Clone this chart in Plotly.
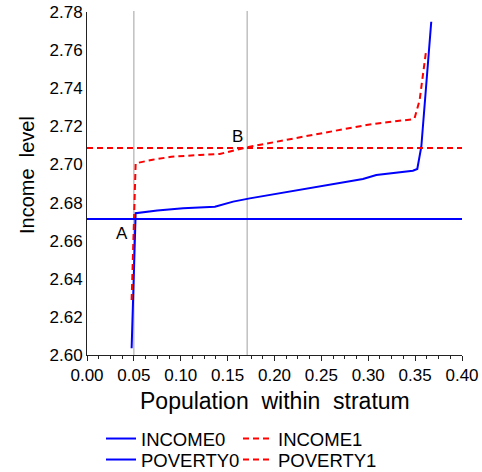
import plotly.graph_objects as go

# ---- data ----
income0_x = [0.0476, 0.0511, 0.0519, 0.0750, 0.1026, 0.1364, 0.1559, 0.1736, 0.2000,
             0.2500, 0.2943, 0.3086, 0.3300, 0.3476, 0.3523, 0.3566, 0.3672]
income0_y = [2.6035, 2.6714, 2.6744, 2.6758, 2.6770, 2.6778, 2.6805, 2.6822, 2.6844,
             2.6886, 2.6924, 2.6945, 2.6957, 2.6967, 2.6976, 2.7093, 2.7749]

income1_x = [0.0476, 0.0519, 0.0700, 0.0900, 0.1204, 0.1417, 0.1665, 0.1736, 0.2300,
             0.2980, 0.3200, 0.3476, 0.3494, 0.3548, 0.3619]
income1_y = [2.6289, 2.7006, 2.7025, 2.7040, 2.7050, 2.7055, 2.7085, 2.7093, 2.7145,
             2.7207, 2.7222, 2.7237, 2.7242, 2.7338, 2.7604]

poverty_x = [0.0, 0.40]
poverty0_level = 2.6714
poverty1_level = 2.7086

ref_lines_x = [0.05, 0.1708]

point_labels = ["A", "B"]
point_label_x = [0.037, 0.161]
point_label_y = [2.664, 2.7146]

x_ticks = [0.00, 0.05, 0.10, 0.15, 0.20, 0.25, 0.30, 0.35, 0.40]
y_ticks = [2.60, 2.62, 2.64, 2.66, 2.68, 2.70, 2.72, 2.74, 2.76, 2.78]

x_title = "Population\u00a0 within\u00a0 stratum"
y_title = "Income\u00a0 level"

FONT = "Arial, Liberation Sans, sans-serif"
BLUE = "#0000ff"
RED = "#ff0000"

fig = go.Figure()

fig.add_trace(go.Scatter(x=income0_x, y=income0_y, mode="lines", name="INCOME0",
                         line=dict(color=BLUE, width=2), legend="legend"))
fig.add_trace(go.Scatter(x=income1_x, y=income1_y, mode="lines", name="INCOME1",
                         line=dict(color=RED, width=2, dash="6px,4px"), legend="legend2"))
fig.add_trace(go.Scatter(x=poverty_x, y=[poverty0_level] * len(poverty_x), mode="lines",
                         name="POVERTY0", line=dict(color=BLUE, width=2), legend="legend3"))
fig.add_trace(go.Scatter(x=poverty_x, y=[poverty1_level] * len(poverty_x), mode="lines",
                         name="POVERTY1", line=dict(color=RED, width=2, dash="6px,4px"),
                         legend="legend4"))

for xv in ref_lines_x:
    fig.add_shape(type="line", xref="x", yref="paper", x0=xv, x1=xv, y0=0, y1=1.003,
                  line=dict(color="#a0a0a0", width=1), layer="below")

for t, xv, yv in zip(point_labels, point_label_x, point_label_y):
    fig.add_annotation(x=xv, y=yv, text=t, showarrow=False,
                       font=dict(family=FONT, size=17, color="black"))

# axis titles (placed as text annotations for exact positioning)
fig.add_annotation(xref="paper", yref="paper", x=0.5013, y=-0.135, text=x_title,
                   showarrow=False, xanchor="center", yanchor="middle",
                   font=dict(family=FONT, size=23, color="black"))
fig.add_annotation(xref="paper", yref="paper", x=-0.16, y=0.5248, text=y_title,
                   showarrow=False, xanchor="center", yanchor="middle", textangle=-90,
                   font=dict(family=FONT, size=20, color="black"))

W, H = 482, 472


def leg(px, py):
    return dict(orientation="v", xref="container", yref="container",
                x=px / W, y=1 - py / H, xanchor="left", yanchor="top",
                bgcolor="rgba(0,0,0,0)", borderwidth=0,
                font=dict(family=FONT, size=18.5, color="black"), itemwidth=30)


fig.update_layout(
    width=W, height=H,
    margin=dict(l=87, r=20, t=12, b=117, autoexpand=False),
    paper_bgcolor="white", plot_bgcolor="white",
    font=dict(family=FONT, color="black"),
    showlegend=True,
    legend=leg(101, 420),
    legend2=leg(238, 420),
    legend3=leg(101, 441),
    legend4=leg(238, 441),
    xaxis=dict(range=[0, 0.40], tickvals=x_ticks, tickformat=".2f",
               showgrid=False, zeroline=False, showline=True, linecolor="#222",
               linewidth=1, ticks="outside", ticklen=5, tickcolor="#222",
               tickfont=dict(family=FONT, size=17, color="black"),
               minor=dict(dtick=0.0125, ticks="outside", ticklen=3, tickcolor="#222")),
    yaxis=dict(range=[2.60, 2.78], tickvals=y_ticks, tickformat=".2f",
               showgrid=False, zeroline=False, showline=True, linecolor="#222",
               linewidth=1, ticks="", tickfont=dict(family=FONT, size=17, color="black")),
)

fig.write_html("out.html", config={"displayModeBar": False},
               post_script="document.body.style.margin='0';")
